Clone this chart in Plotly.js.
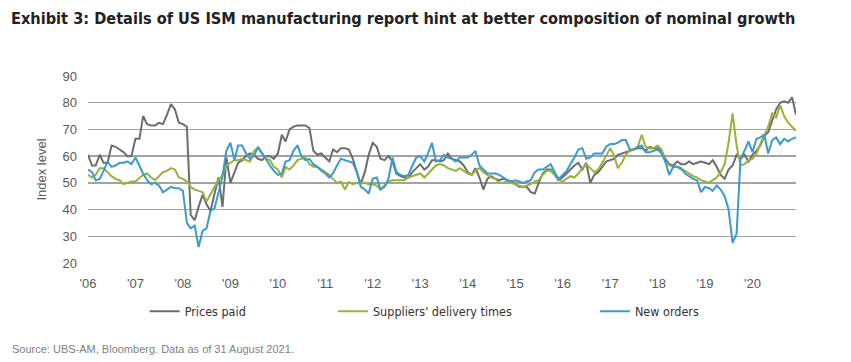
<!DOCTYPE html>
<html>
<head>
<meta charset="utf-8">
<script src="https://cdn.plot.ly/plotly-3.0.1.min.js"></script>
<style>
html, body { margin: 0; padding: 0; background: #ffffff; }
#chart { width: 851px; height: 362px; }
</style>
</head>
<body>
<div id="chart"></div>
<script>
// ---- Data (monthly, Jan 2006 .. Dec 2020 as laid out on the reference axis) ----
const firstYear = 2006;
const lastYear = 2020;
const tickYears = ["2006","2007","2008","2009","2010","2011","2012","2013","2014","2015","2016","2017","2018","2019","2020"];
const tickLabels = ["'06","'07","'08","'09","'10","'11","'12","'13","'14","'15","'16","'17","'18","'19","'20"];

const seriesNames = ["Prices paid", "Suppliers' delivery times", "New orders"];

const pricesPaid = [
  60.5, 56.5, 56.5, 60.5, 57.5, 57.5, 64, 63.5, 62.5, 61.5, 60, 60,
  66.5, 66.5, 75, 72, 71.5, 71.5, 72.5, 72, 75.5, 79.5, 77.5, 72.5,
  72, 71, 38, 36, 41, 45.5, 42, 39.5, 46, 52, 41, 59.5,
  50, 54, 57.5, 58.5, 60, 61, 60.5, 59, 58.5, 60, 60, 59,
  61, 68, 65.5, 70, 71, 71.5, 71.5, 71.5, 70.5, 62, 60.5, 61,
  59.5, 58, 62.5, 61.5, 63, 63, 62.5, 59, 54, 49.5, 54, 60.5,
  65, 63.5, 59, 58.5, 60, 58, 53.5, 52.5, 52, 52, 54, 55.5,
  57, 55, 56, 58.5, 58.5, 58, 58.5, 61, 59, 58.5, 58, 56.5,
  54, 53, 55.5, 52, 47.5, 51.5, 52.5, 51.5, 51, 51.5, 51, 50.5,
  49.5, 48.5, 48.5, 48.5, 46.5, 46, 50, 53.5, 55, 55, 53, 51,
  52, 53.5, 55, 56.5, 57.5, 55, 57.5, 50, 53, 54, 56, 58,
  58.5, 59, 60.5, 61, 61.5, 62, 62.5, 63, 63, 62, 63.5, 63,
  63, 62, 59, 57, 56.5, 58, 57, 57, 58, 57, 57.5, 58,
  57.5, 57, 58.5, 56, 53, 51.5, 55, 56.5, 60.5, 59, 60.5, 58,
  60.5, 62, 64, 67.5, 69, 73.5, 77.5, 80, 80.5, 80, 82, 75.5
];

const supplierDeliveries = [
  53, 52, 53, 55.5, 55.5, 54, 52.5, 51.5, 51, 49.5, 50, 50.5,
  50.5, 52, 53, 53.5, 52, 51, 52.5, 54, 54.5, 55.5, 55, 52,
  51.5, 50.5, 48.5, 47.5, 47, 46.5, 43, 45.5, 48.5, 51, 53, 56.5,
  57.5, 58.5, 58.5, 59, 58.5, 58, 62, 63, 61, 59, 58.5, 56,
  55, 52, 56, 55, 56.5, 58.5, 59, 59.5, 57, 56, 56, 55,
  54, 53, 51.5, 50, 50.5, 47.5, 50.3, 49.5, 50, 50, 50, 49.5,
  49.5, 49, 47.5, 49, 50.5, 51, 51, 51, 51, 52, 52.5, 53,
  53.5, 52, 53.5, 55, 56.5, 57, 56.5, 55.5, 55, 54.5, 55.5, 54.5,
  53.5, 53, 54.5, 55.5, 54, 53, 52, 51.5, 50, 50, 50.5, 50,
  49.5, 49, 48.5, 49, 49.5, 50.5, 51, 53, 54.5, 54.5, 53, 51.5,
  50.5, 51.5, 52.5, 52, 53.5, 55.5, 57, 55.5, 54, 55, 57.5, 60,
  63, 60, 55.5, 57.5, 60.5, 62, 62.5, 63.5, 68, 63.5, 63, 63,
  64, 62.5, 58, 56.5, 56, 56, 55, 54.5, 53.5, 52.5, 52, 51,
  50.5, 50, 51, 52, 54, 57, 65, 76, 64, 56.5, 57, 58.5,
  59, 61, 64.5, 68, 71, 76, 74.5, 79, 75, 72.5, 71, 69.5
];

const newOrders = [
  55, 54, 51, 51.5, 54.5, 58, 56, 56.5, 57.5, 57.5, 58, 57,
  59.5, 56, 53.5, 51, 49.5, 50, 49, 46.5, 47.5, 48.5, 48, 48,
  47, 35, 33, 34, 26, 32, 33, 39.5, 40.5, 47, 52.5, 62,
  65, 58.5, 64, 64, 61, 59, 60, 63.5, 61, 58.5, 56.5, 54.5,
  53, 53.5, 58, 58.5, 62, 64, 60, 58.5, 59, 57, 56, 54.5,
  53.5, 52, 53.5, 56.5, 59, 58.5, 58, 57.5, 54, 48.5, 47.5, 46,
  51.5, 52, 47.5, 48.5, 51.5, 59.5, 54, 53, 52.5, 53, 56.5, 59.5,
  60, 58, 61, 65, 58, 58.5, 60.5, 59.5, 59, 58, 59.5, 59.5,
  59.5, 60.5, 62, 56.5, 55, 53.5, 53.5, 53.5, 53, 52, 51, 50.5,
  51, 50.5, 50, 50.5, 51, 54, 55, 55, 56, 57, 54, 51.5,
  53, 54.5, 57, 59.5, 62.5, 63, 59, 59.5, 61, 61, 61, 63.5,
  64.5, 64.5, 65, 66, 66, 62.5, 62.5, 63.5, 64, 61.5, 61.5, 62,
  62.5, 61, 58, 53, 56, 56, 55.5, 53.5, 52.5, 51.5, 51, 46.5,
  48.5, 48, 47, 49, 47.5, 45, 40, 27.5, 31, 59, 62, 65.5,
  61.5, 66.5, 67, 68, 61, 66, 67, 64.5, 66.5, 65.5, 66.5, 67
];

// ---- Build monthly date categories ----
const months = [];
for (let y = firstYear; y <= lastYear; y++) {
  for (let m = 1; m <= 12; m++) {
    months.push(y + "-" + String(m).padStart(2, "0") + "-01");
  }
}
const tickVals = tickYears.map(y => y + "-01-01");

const colors = ["#6d6d6d", "#98b23c", "#3a9bcc"];
const legendIds = ["legend", "legend2", "legend3"];
const seriesData = [pricesPaid, supplierDeliveries, newOrders];

const traces = seriesData.map((vals, k) => ({
  type: "scatter",
  mode: "lines",
  name: seriesNames[k],
  x: months,
  y: vals,
  line: { color: colors[k], width: 2 },
  legend: legendIds[k],
  hoverinfo: "skip"
}));

const bodyFont = "'Liberation Sans', Arial, sans-serif";
const narrowFont = "'Liberation Sans Narrow', 'Arial Narrow', 'DejaVu Sans Condensed', sans-serif";

function legendAt(xp) {
  return {
    x: xp, xref: "paper", xanchor: "left",
    y: -0.26, yref: "paper", yanchor: "middle",
    orientation: "h",
    bgcolor: "rgba(0,0,0,0)",
    borderwidth: 0,
    font: { family: narrowFont, size: 12.5, color: "#333333" },
    itemwidth: 30
  };
}

const layout = {
  width: 851,
  height: 362,
  paper_bgcolor: "#ffffff",
  plot_bgcolor: "#ffffff",
  margin: { l: 88, r: 55, t: 76, b: 99, pad: 0 },
  title: {
    text: "<b>Exhibit 3: Details of US ISM manufacturing report hint at better composition of nominal growth</b>",
    font: { family: narrowFont, size: 16.2, color: "#222222" },
    x: 11 / 851, xref: "container", xanchor: "left",
    y: 1 - 18 / 362, yref: "container", yanchor: "middle"
  },
  showlegend: true,
  legend: legendAt(0.08),
  legend2: legendAt(0.346),
  legend3: legendAt(0.716),
  xaxis: {
    type: "date",
    range: [months[0], months[months.length - 1]],
    tickmode: "array",
    tickvals: tickVals,
    ticktext: tickLabels,
    showgrid: false,
    zeroline: false,
    showline: false,
    ticks: "",
    ticklabelstandoff: 11,
    tickfont: { family: bodyFont, size: 13, color: "#595959" },
    fixedrange: true
  },
  yaxis: {
    range: [20, 90],
    tickmode: "array",
    tickvals: [20, 30, 40, 50, 60, 70, 80, 90],
    showgrid: true,
    gridcolor: "#a3a3a3",
    gridwidth: 1.5,
    zeroline: false,
    showline: false,
    ticks: "",
    ticklabelstandoff: 10,
    tickfont: { family: bodyFont, size: 13, color: "#595959" },
    title: {
      text: "Index level",
      font: { family: bodyFont, size: 13, color: "#595959" },
      standoff: 12
    },
    fixedrange: true
  },
  annotations: [
    {
      text: "Source: UBS-AM, Bloomberg. Data as of 31 August 2021.",
      xref: "paper", yref: "paper",
      x: (10 - 88) / 708, xanchor: "left",
      y: (262.7 - 348) / 186, yanchor: "middle",
      showarrow: false,
      font: { family: bodyFont, size: 11, color: "#7f7f7f" }
    }
  ]
};

Plotly.newPlot("chart", traces, layout, { staticPlot: true, displayModeBar: false });
</script>
</body>
</html>
